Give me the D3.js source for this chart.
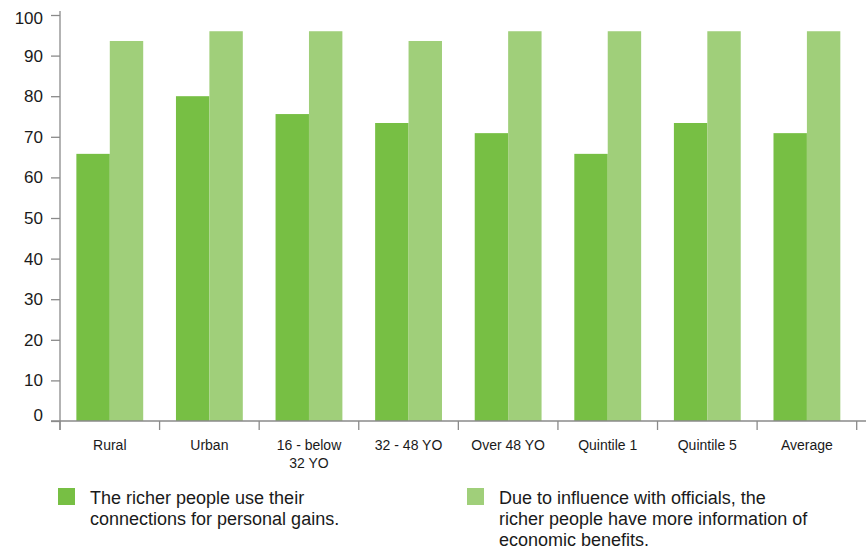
<!DOCTYPE html>
<html><head><meta charset="utf-8">
<script src="https://cdn.jsdelivr.net/npm/d3@7"></script>
<style>body{margin:0;background:#fff}svg{display:block}</style>
</head><body>
<svg id="c" width="868" height="551"></svg>
<script>
const categories = ["Rural", "Urban", "16 - below\n32 YO", "32 - 48 YO", "Over 48 YO", "Quintile 1", "Quintile 5", "Average"];
const seriesNames = ["The richer people use their\nconnections for personal gains.", "Due to influence with officials, the\nricher people have more information of\neconomic benefits."];
const connections = [65.8, 80.0, 75.6, 73.4, 70.9, 65.8, 73.4, 70.9];
const information = [93.6, 96.0, 96.0, 93.6, 96.0, 96.0, 96.0, 96.0];
const yTicks = [0, 10, 20, 30, 40, 50, 60, 70, 80, 90, 100];
const colors = ["#77bf44", "#a0cf7a"];

const svg = d3.select("#c");
const font = "'Liberation Sans', Arial, Helvetica, sans-serif";
const axisColor = "#8a8a8a";

const x = d3.scaleBand().domain(categories).range([60, 856.7]).paddingInner(0).paddingOuter(0);
const x1 = d3.scaleBand().domain([0, 1]).range([0, x.bandwidth()]).paddingInner(0).paddingOuter(0.49);
const y = d3.scaleLinear().domain([0, 100]).range([421, 15]);

const data = categories.map((c, i) => ({c, v: [connections[i], information[i]]}));

// bars
const g = svg.append("g");
data.forEach(d => {
  d.v.forEach((v, j) => {
    g.append("rect")
      .attr("x", x(d.c) + x1(j))
      .attr("y", y(v))
      .attr("width", x1.bandwidth())
      .attr("height", y(0) - y(v))
      .attr("fill", colors[j]);
  });
});

// y axis
const yAxis = svg.append("g").attr("transform", "translate(60,0)")
  .call(d3.axisLeft(y).tickValues(yTicks).tickSize(9).tickPadding(8).tickSizeOuter(0));
yAxis.select(".domain").remove();
yAxis.selectAll(".tick line").attr("stroke", axisColor).attr("stroke-width", 1.3);
yAxis.selectAll(".tick text").attr("font-family", font).attr("font-size", 17).attr("fill", "#1a1a1a")
  .attr("y", d => d === 0 ? -6 : (d === 100 ? 3 : 0));
svg.append("line").attr("x1", 60).attr("x2", 60).attr("y1", 11).attr("y2", 430)
  .attr("stroke", axisColor).attr("stroke-width", 1.3);

// x axis
svg.append("line").attr("x1", 51).attr("x2", 866).attr("y1", 421).attr("y2", 421)
  .attr("stroke", axisColor).attr("stroke-width", 1.3);
const bounds = categories.map(c => x(c)).concat([x.range()[1]]);
svg.append("g").selectAll("line").data(bounds).join("line")
  .attr("x1", d => d).attr("x2", d => d).attr("y1", 421).attr("y2", 430)
  .attr("stroke", axisColor).attr("stroke-width", 1.3);
const labels = svg.append("g").selectAll("text").data(categories).join("text")
  .attr("x", d => x(d) + x.bandwidth() / 2)
  .attr("y", 450)
  .attr("text-anchor", "middle")
  .attr("font-family", font).attr("font-size", 14).attr("fill", "#1a1a1a");
labels.each(function(d) {
  d3.select(this).selectAll("tspan").data(d.split("\n")).join("tspan")
    .attr("x", x(d) + x.bandwidth() / 2)
    .attr("dy", (t, i) => i === 0 ? 0 : 18)
    .text(t => t);
});

// legend
const legX = [58, 467];
seriesNames.forEach((name, j) => {
  svg.append("rect").attr("x", legX[j]).attr("y", 488).attr("width", 17).attr("height", 17).attr("fill", colors[j]);
  const t = svg.append("text").attr("x", legX[j] + 32).attr("y", 504)
    .attr("font-family", font).attr("font-size", 18).attr("fill", "#1a1a1a");
  t.selectAll("tspan").data(name.split("\n")).join("tspan")
    .attr("x", legX[j] + 32)
    .attr("dy", (s, i) => i === 0 ? 0 : 21)
    .text(s => s);
});
</script>
</body></html>
